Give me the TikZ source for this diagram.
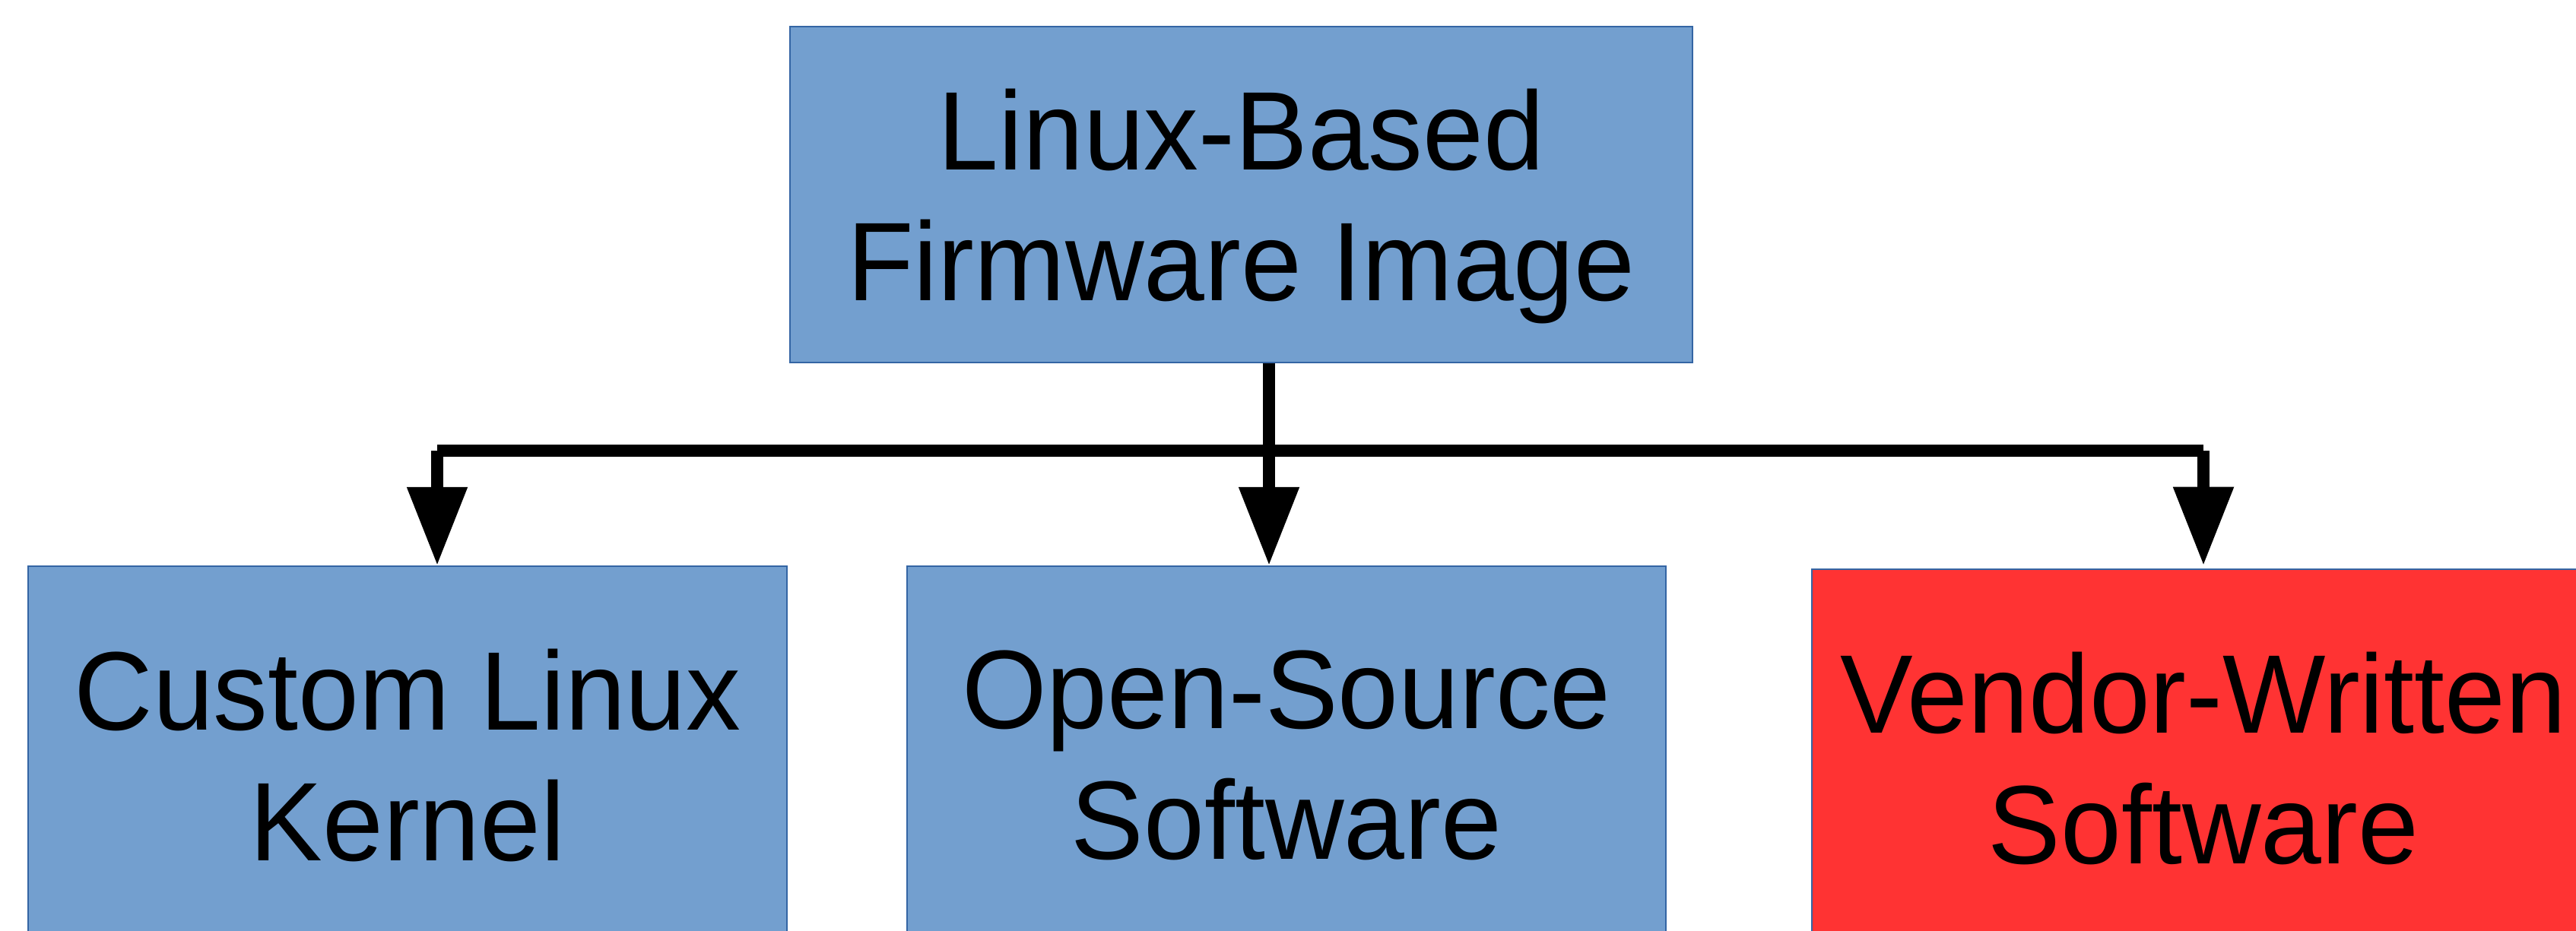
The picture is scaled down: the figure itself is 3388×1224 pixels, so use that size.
\documentclass[tikz,border=0pt]{standalone}
\usepackage{fontspec}
\setmainfont{Liberation Sans}[FakeStretch=0.976]
\usetikzlibrary{arrows.meta}
\definecolor{boxblue}{RGB}{115,159,207}
\definecolor{edgeblue}{RGB}{52,101,164}
\definecolor{boxred}{RGB}{255,51,51}
\tikzset{
  box/.style={draw=edgeblue, line width=0.6pt, rectangle, inner sep=0pt, align=center,
    text depth=0pt, font={\fontsize{41.8pt}{48.9pt}\selectfont}},
  bluebox/.style={box, fill=boxblue},
  redbox/.style={box, fill=boxred},
  conn/.style={line width=4.3pt, draw=black},
  arr/.style={conn, -{Triangle[length=1.03cm, width=0.76cm]}},
}
\begin{document}
\begin{tikzpicture}[x=0.01cm, y=-0.01cm]
\clip (0,0) rectangle (3388,1224);
\fill[white] (0,0) rectangle (3388,1224);
\node[bluebox, minimum width=11.87cm, minimum height=4.42cm] (top) at (1632.5,256) {Linux-Based\\Firmware Image};
\node[bluebox, minimum width=9.98cm, minimum height=4.96cm] (kern) at (536,993) {Custom Linux\\Kernel};
\node[bluebox, minimum width=9.98cm, minimum height=4.96cm] (oss) at (1692,993) {Open-Source\\Software};
\node[redbox, minimum width=10.30cm, minimum height=4.96cm] (vend) at (2898,997) {Vendor-Written\\Software};
\coordinate (bl) at (575,593);
\coordinate (bm) at (1669,593);
\coordinate (br) at (2898,593);
\draw[conn, line width=4.6pt] (bl) -- (br);
\draw[arr] (top.south -| bm) -- (oss.north -| bm);
\draw[arr] (bl) -- (kern.north -| bl);
\draw[arr] (br) -- ([yshift=0.04cm]vend.north -| br);
\end{tikzpicture}
\end{document}
